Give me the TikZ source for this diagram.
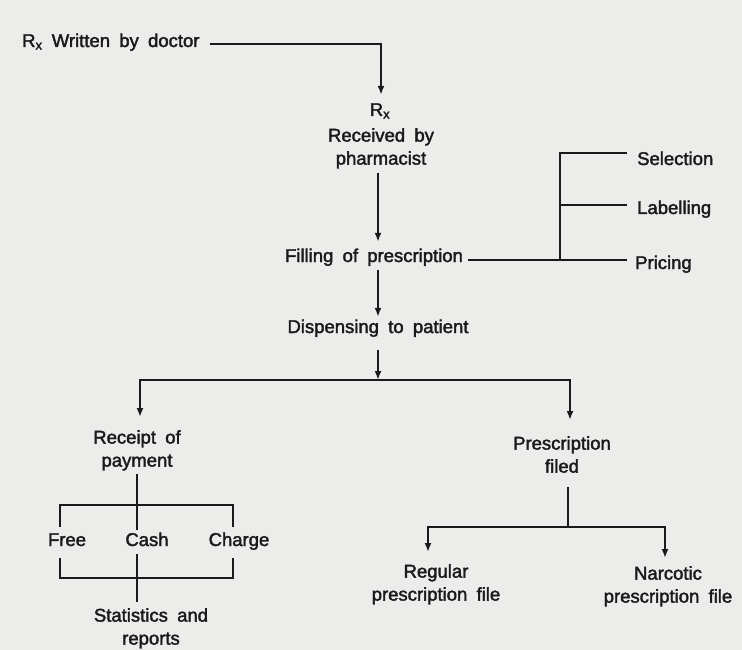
\documentclass[tikz,border=0pt]{standalone}
\usepackage{fontspec}
\setmainfont{Liberation Sans}[WordSpace=1.8, BoldFont=Liberation Sans, BoldFeatures={FakeBold=2}]
\usetikzlibrary{arrows.meta,positioning,calc}
\definecolor{paperBG}{HTML}{ECECEA}
\definecolor{inkLine}{HTML}{1A1A1A}

\begin{document}
\begin{tikzpicture}[x=1pt,y=-1pt,
  lbl/.style={inner sep=0pt, font=\fontsize{18.5}{23}\selectfont\bfseries, text=inkLine, align=center},
  wrd/.style={lbl, text height=13pt, text depth=4pt},
  link/.style={draw=inkLine, line width=2pt},
  arr/.style={link, -{Latex[length=9pt,width=7pt]}},
]
  \fill[paperBG] (0,0) rectangle (742,650);

  % main column
  \node[wrd, anchor=base west] (doc) at (22,47) {R\textsubscript{x} Written by doctor};
  \node[wrd, anchor=base] (rx) at (380,116) {R\textsubscript{x}};
  \node[lbl, anchor=north] (recv) at (381,128) {Received by\\pharmacist};
  \node[wrd, anchor=base] (fill) at (374,262) {Filling of prescription};
  \node[wrd, anchor=base] (disp) at (378,333) {Dispensing to patient};

  % filling steps
  \node[wrd, anchor=base west] (sel) at (637,165) {Selection};
  \node[wrd, anchor=base west] (lab) at (637,214) {Labelling};
  \node[wrd, anchor=base west] (pri) at (635,269) {Pricing};

  % payment side
  \node[lbl, anchor=north] (pay) at (137,430) {Receipt of\\payment};
  \node[wrd, anchor=base] (free) at (67,546) {Free};
  \node[wrd, anchor=base] (cash) at (147,546) {Cash};
  \node[wrd, anchor=base] (chg) at (239,546) {Charge};
  \node[lbl, anchor=north] (stat) at (151,608) {Statistics and\\reports};

  % filing side
  \node[lbl, anchor=north] (filed) at (562,436) {Prescription\\filed};
  \node[lbl, anchor=north] (reg) at (436,564) {Regular\\prescription file};
  \node[lbl, anchor=north] (narc) at (668,566) {Narcotic\\prescription file};

  \coordinate (fk) at (560,260);
  \coordinate (sp) at (378,380);
  \coordinate (pb) at (137,505);
  \coordinate (pc) at (137,578);
  \coordinate (fs) at (568,527);

  % down the column
  \draw[arr] ([xshift=10pt,yshift=3pt]doc.base east) -| ([xshift=1pt,yshift=8pt]rx.north);
  \draw[arr] ([xshift=-3pt,yshift=-4pt]recv.south) -- ([xshift=-3pt,yshift=7pt]recv.south |- fill.north);
  \draw[arr] ([yshift=-4pt]disp.north |- fill.south) -- ([yshift=3pt]disp.north);
  \draw[arr] ([yshift=-13pt]disp.south) -- (sp);

  % steps of filling
  \draw[link] ([xshift=5pt]fill.east |- fk) -- ([xshift=-8pt]pri.west |- fk);
  \draw[link] (fk) |- ([xshift=-10pt,yshift=7pt]sel.west);
  \draw[link] ([yshift=5pt]fk |- lab.west) -- ([xshift=-10pt,yshift=5pt]lab.west);

  % two ways out
  \draw[arr] (sp) -| ([xshift=3pt,yshift=13pt]pay.north);
  \draw[arr] (sp) -| ([xshift=8pt,yshift=16pt]filed.north);

  % payment
  \draw[link] ([yshift=-3pt]pay.south) -- ([yshift=3pt]pay.south |- cash.north);
  \draw[link] ([xshift=-7pt,yshift=6pt]free.north) |- (pb) -| ([xshift=-6pt,yshift=6pt]chg.north);
  \draw[link] ([xshift=-7pt,yshift=-8pt]free.south) |- (pc) -| ([xshift=-6pt,yshift=-8pt]chg.south);
  \draw[link] ([yshift=-4pt]pc |- cash.south) -- ([yshift=6pt]pc |- stat.north);

  % filing
  \draw[link] ([xshift=6pt,yshift=-14pt]filed.south) -- (fs);
  \draw[arr] (fs) -| ([xshift=-8pt,yshift=12pt]reg.north);
  \draw[arr] (fs) -| ([xshift=-3pt,yshift=8pt]narc.north);
\end{tikzpicture}
\end{document}
